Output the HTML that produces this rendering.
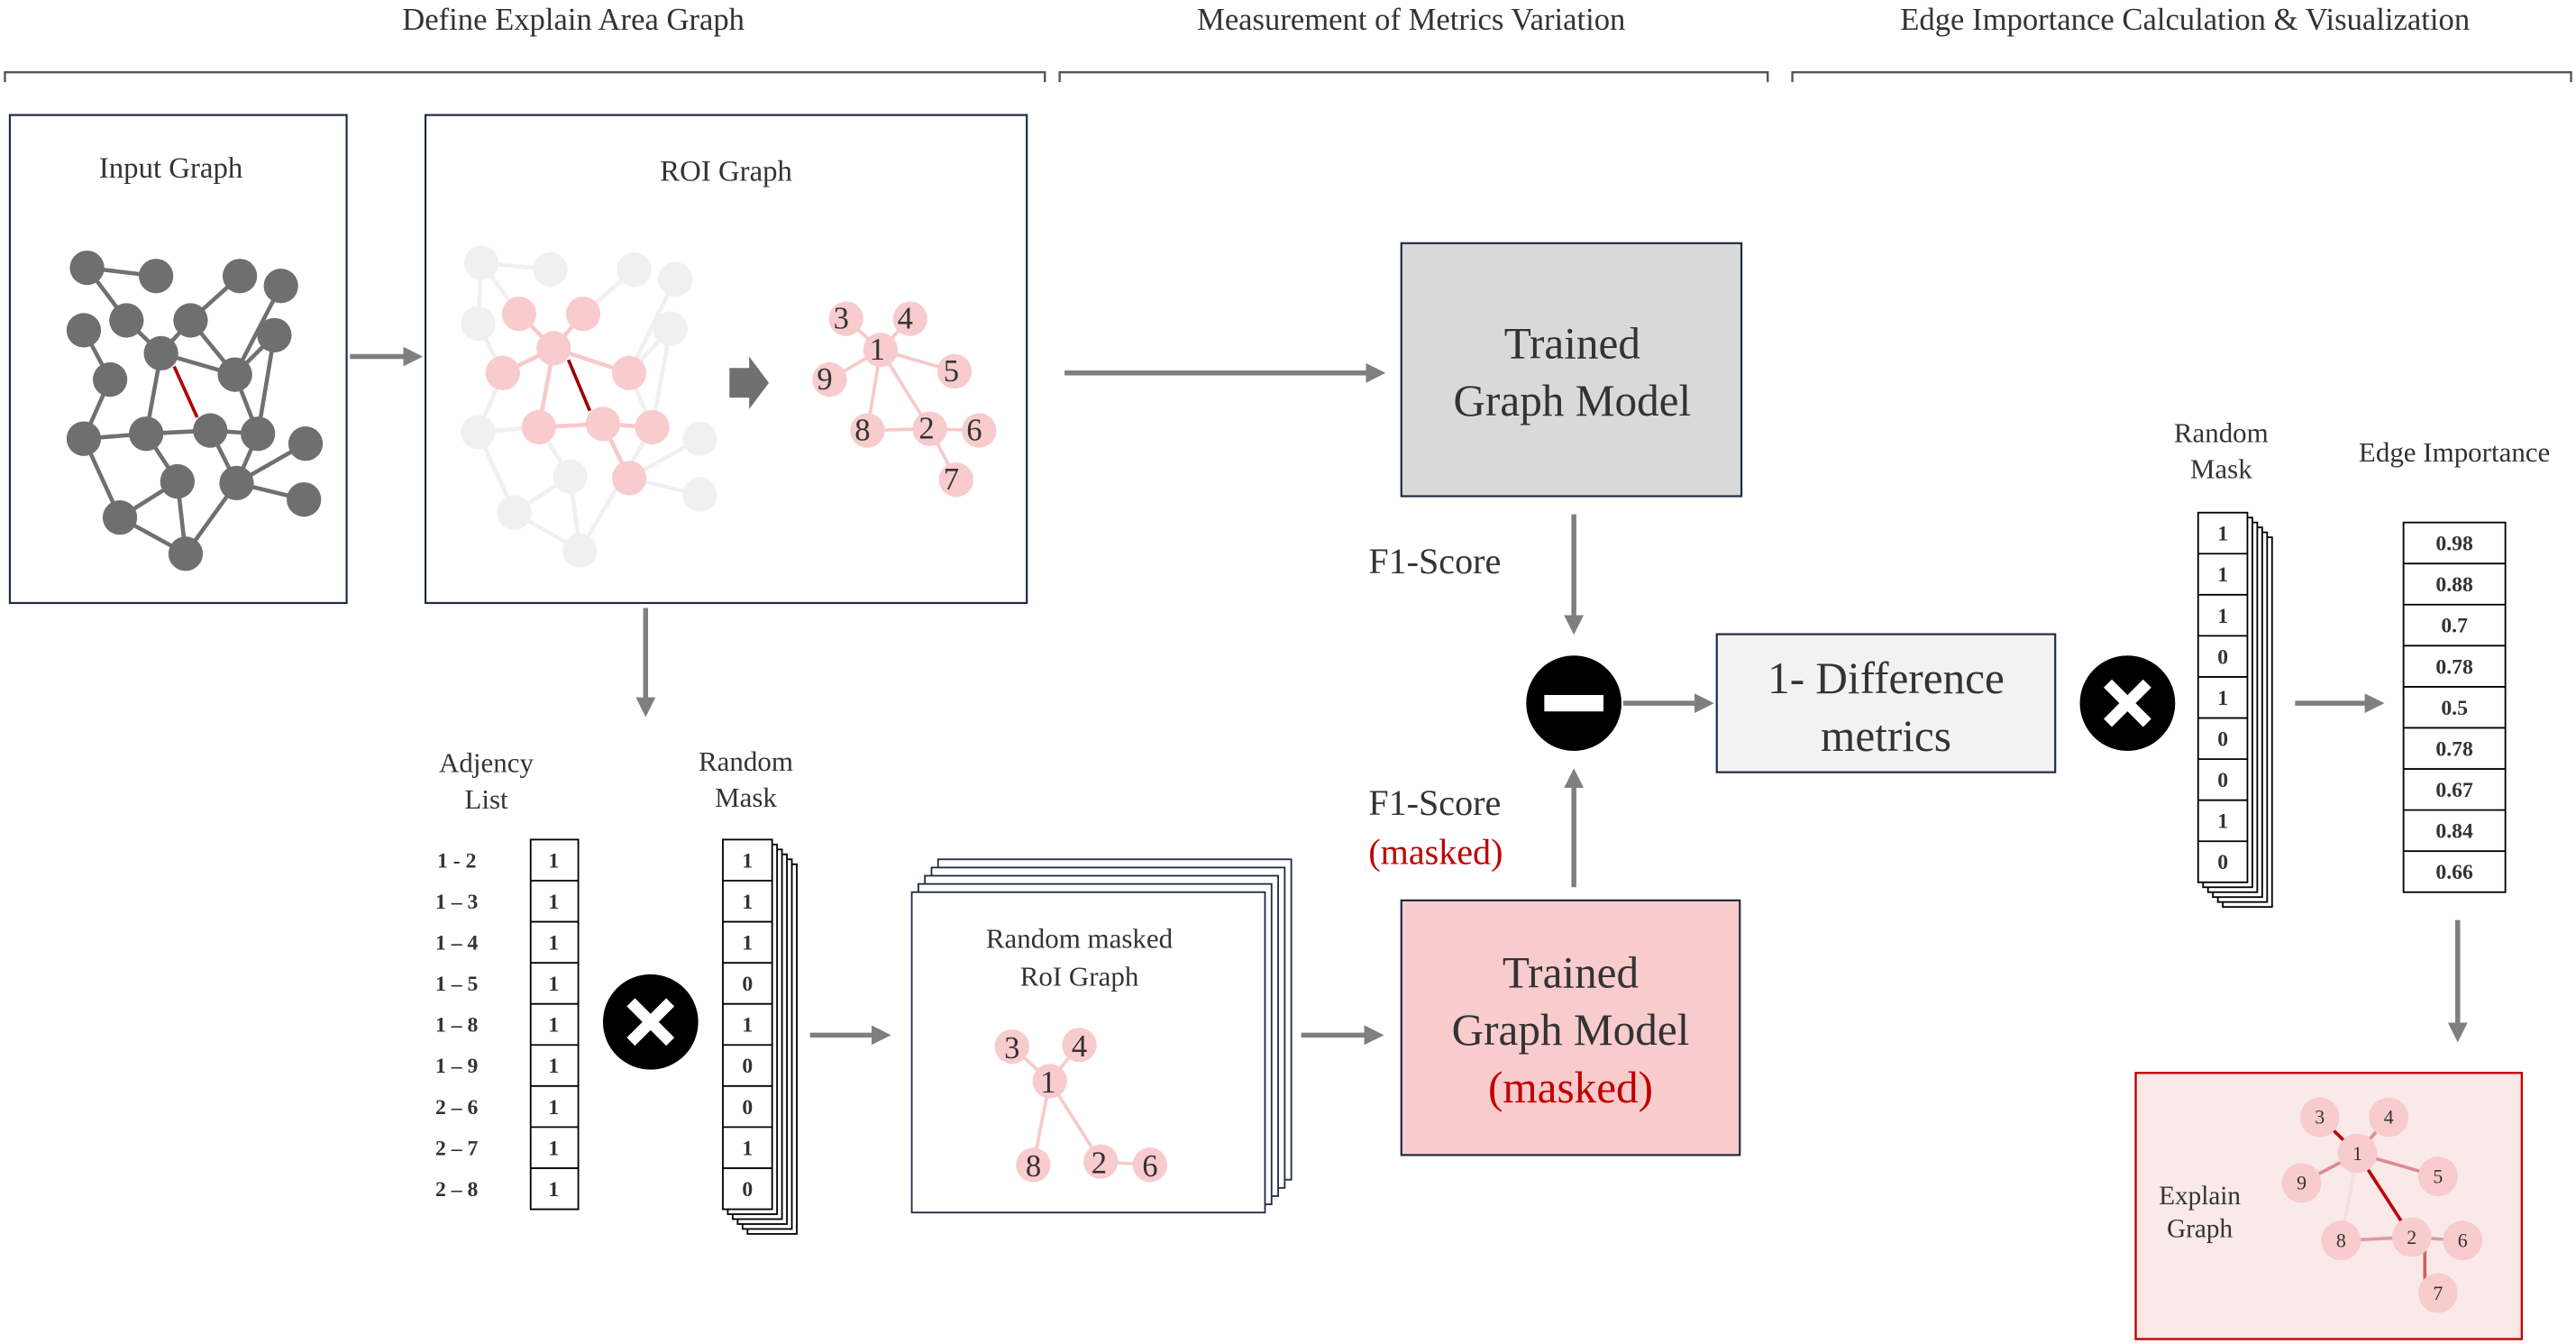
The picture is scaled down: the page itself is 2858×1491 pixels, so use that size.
<!DOCTYPE html>
<html><head><meta charset="utf-8"><style>
html,body{margin:0;padding:0;background:#fff;}
svg{display:block;font-family:"Liberation Serif","Times New Roman",serif;}
text{font-family:"Liberation Serif","Times New Roman",serif;fill:#333;}
</style></head><body>
<svg width="2858" height="1491" viewBox="0 0 1568 818" xmlns="http://www.w3.org/2000/svg" font-family="Liberation Serif, serif">
<defs>
<marker id="ah" markerWidth="4" markerHeight="4" refX="2.2" refY="2" orient="auto" markerUnits="strokeWidth">
<path d="M0,0 L4,2 L0,4 Z" fill="#7f7f7f"/></marker>
</defs>

<g font-size="19" text-anchor="middle">
<text x="349" y="18">Define Explain Area Graph</text>
<text x="859" y="18">Measurement of Metrics Variation</text>
<text x="1330" y="18">Edge Importance Calculation &amp; Visualization</text>
</g>
<g stroke="#555" stroke-width="1.3" fill="none">
<path d="M3,50 V44 H636 V50"/>
<path d="M645,50 V44 H1076 V50"/>
<path d="M1091,50 V44 H1565 V50"/>
</g>

<rect x="6" y="70" width="205" height="297" fill="#fff" stroke="#1f2a44" stroke-width="1.2"/>
<text x="104" y="108" font-size="18" text-anchor="middle">Input Graph</text>
<g stroke="#707070" stroke-width="2.5">
<line x1="53" y1="163" x2="95" y2="168"/><line x1="53" y1="163" x2="77" y2="195"/>
<line x1="146" y1="168" x2="116" y2="195"/><line x1="171" y1="174" x2="143" y2="228"/>
<line x1="51" y1="201" x2="67" y2="231"/><line x1="77" y1="195" x2="98" y2="215"/>
<line x1="116" y1="195" x2="98" y2="215"/><line x1="116" y1="195" x2="143" y2="228"/>
<line x1="98" y1="215" x2="143" y2="228"/><line x1="167" y1="204" x2="143" y2="228"/>
<line x1="167" y1="204" x2="157" y2="264"/><line x1="98" y1="215" x2="89" y2="264"/>
<line x1="67" y1="231" x2="51" y2="267"/><line x1="51" y1="267" x2="89" y2="264"/>
<line x1="89" y1="264" x2="128" y2="262"/><line x1="128" y1="262" x2="157" y2="264"/>
<line x1="143" y1="228" x2="157" y2="264"/><line x1="128" y1="262" x2="144" y2="294"/>
<line x1="157" y1="264" x2="144" y2="294"/><line x1="89" y1="264" x2="108" y2="293"/>
<line x1="186" y1="270" x2="144" y2="294"/><line x1="144" y1="294" x2="185" y2="304"/>
<line x1="144" y1="294" x2="113" y2="337"/><line x1="108" y1="293" x2="73" y2="315"/>
<line x1="108" y1="293" x2="113" y2="337"/><line x1="51" y1="267" x2="73" y2="315"/>
<line x1="73" y1="315" x2="113" y2="337"/>
</g>
<line x1="106" y1="223" x2="120" y2="254" stroke="#b00000" stroke-width="2"/>
<g fill="#6f6f6f">
<circle cx="53" cy="163" r="10.5"/><circle cx="95" cy="168" r="10.5"/><circle cx="146" cy="168" r="10.5"/>
<circle cx="171" cy="174" r="10.5"/><circle cx="77" cy="195" r="10.5"/><circle cx="116" cy="195" r="10.5"/>
<circle cx="51" cy="201" r="10.5"/><circle cx="167" cy="204" r="10.5"/><circle cx="98" cy="215" r="10.5"/>
<circle cx="143" cy="228" r="10.5"/><circle cx="67" cy="231" r="10.5"/><circle cx="51" cy="267" r="10.5"/>
<circle cx="89" cy="264" r="10.5"/><circle cx="128" cy="262" r="10.5"/><circle cx="157" cy="264" r="10.5"/>
<circle cx="186" cy="270" r="10.5"/><circle cx="108" cy="293" r="10.5"/><circle cx="144" cy="294" r="10.5"/>
<circle cx="185" cy="304" r="10.5"/><circle cx="73" cy="315" r="10.5"/><circle cx="113" cy="337" r="10.5"/>
</g>

<line x1="213" y1="217" x2="252" y2="217" stroke="#7f7f7f" stroke-width="3" marker-end="url(#ah)"/>

<rect x="259" y="70" width="366" height="297" fill="#fff" stroke="#1f2a44" stroke-width="1.2"/>
<text x="442" y="110" font-size="18" text-anchor="middle">ROI Graph</text>
<g stroke="#f0f0f0" stroke-width="2.5">
<line x1="293" y1="160" x2="335" y2="164"/><line x1="293" y1="160" x2="291" y2="197"/>
<line x1="293" y1="160" x2="316" y2="191"/><line x1="386" y1="164" x2="355" y2="191"/>
<line x1="411" y1="170" x2="383" y2="227"/><line x1="408" y1="200" x2="383" y2="227"/>
<line x1="408" y1="200" x2="397" y2="260"/><line x1="383" y1="227" x2="397" y2="260"/>
<line x1="291" y1="197" x2="306" y2="227"/><line x1="306" y1="227" x2="291" y2="263"/>
<line x1="291" y1="263" x2="328" y2="260"/><line x1="291" y1="263" x2="313" y2="312"/>
<line x1="328" y1="260" x2="347" y2="290"/><line x1="347" y1="290" x2="313" y2="312"/>
<line x1="347" y1="290" x2="353" y2="335"/><line x1="313" y1="312" x2="353" y2="335"/>
<line x1="383" y1="291" x2="426" y2="267"/><line x1="383" y1="291" x2="426" y2="301"/>
<line x1="397" y1="260" x2="353" y2="335"/>
</g>
<g fill="#f0f0f0">
<circle cx="293" cy="160" r="10.5"/><circle cx="335" cy="164" r="10.5"/><circle cx="386" cy="164" r="10.5"/>
<circle cx="411" cy="170" r="10.5"/><circle cx="291" cy="197" r="10.5"/><circle cx="408" cy="200" r="10.5"/>
<circle cx="291" cy="263" r="10.5"/><circle cx="426" cy="267" r="10.5"/><circle cx="347" cy="290" r="10.5"/>
<circle cx="426" cy="301" r="10.5"/><circle cx="313" cy="312" r="10.5"/><circle cx="353" cy="335" r="10.5"/>
</g>
<g stroke="#f7c9cb" stroke-width="2.5">
<line x1="316" y1="191" x2="337" y2="212"/><line x1="355" y1="191" x2="337" y2="212"/>
<line x1="337" y1="212" x2="383" y2="227"/><line x1="337" y1="212" x2="306" y2="227"/>
<line x1="337" y1="212" x2="328" y2="260"/><line x1="328" y1="260" x2="367" y2="258"/>
<line x1="367" y1="258" x2="397" y2="260"/><line x1="367" y1="258" x2="383" y2="291"/>
</g>
<g fill="#f8cbcd">
<circle cx="316" cy="191" r="10.5"/><circle cx="355" cy="191" r="10.5"/><circle cx="337" cy="212" r="10.5"/>
<circle cx="306" cy="227" r="10.5"/><circle cx="383" cy="227" r="10.5"/><circle cx="328" cy="260" r="10.5"/>
<circle cx="367" cy="258" r="10.5"/><circle cx="397" cy="260" r="10.5"/><circle cx="383" cy="291" r="10.5"/>
</g>
<line x1="346" y1="219" x2="359" y2="250" stroke="#9a0000" stroke-width="2"/>
<polygon points="444,224 456,224 456,217 468,233 456,249 456,242 444,242" fill="#707070"/>
<g stroke="#f7c9cb" stroke-width="2">
<line x1="536" y1="213" x2="515" y2="194"/><line x1="536" y1="213" x2="554" y2="194"/>
<line x1="536" y1="213" x2="581" y2="226"/><line x1="536" y1="213" x2="505" y2="231"/>
<line x1="536" y1="213" x2="528" y2="262"/><line x1="536" y1="213" x2="566" y2="261"/>
<line x1="528" y1="262" x2="566" y2="261"/><line x1="566" y1="261" x2="596" y2="262"/>
<line x1="566" y1="261" x2="582" y2="292"/>
</g>
<g fill="#f8cbcd">
<circle cx="515" cy="194" r="10.5"/><circle cx="554" cy="194" r="10.5"/><circle cx="536" cy="213" r="10.5"/>
<circle cx="581" cy="226" r="10.5"/><circle cx="505" cy="231" r="10.5"/><circle cx="528" cy="262" r="10.5"/>
<circle cx="566" cy="261" r="10.5"/><circle cx="596" cy="262" r="10.5"/><circle cx="582" cy="292" r="10.5"/>
</g>
<g font-size="19" text-anchor="middle">
<text x="512" y="200">3</text><text x="551" y="200">4</text><text x="534" y="219">1</text>
<text x="579" y="232">5</text><text x="502" y="237">9</text><text x="525" y="268">8</text>
<text x="564" y="267">2</text><text x="593" y="268">6</text><text x="579" y="298">7</text>
</g>

<line x1="648" y1="227" x2="838" y2="227" stroke="#7f7f7f" stroke-width="3" marker-end="url(#ah)"/>
<rect x="853" y="148" width="207" height="154" fill="#d9d9d9" stroke="#1f2a44" stroke-width="1.2"/>
<g font-size="27" text-anchor="middle">
<text x="957" y="218">Trained</text><text x="957" y="253">Graph Model</text>
</g>
<line x1="958" y1="313" x2="958" y2="381" stroke="#7f7f7f" stroke-width="3" marker-end="url(#ah)"/>
<text x="833" y="349" font-size="22">F1-Score</text>
<circle cx="958" cy="428" r="29" fill="#000"/>
<rect x="940" y="423" width="36" height="10" fill="#fff"/>
<line x1="958" y1="540" x2="958" y2="473" stroke="#7f7f7f" stroke-width="3" marker-end="url(#ah)"/>
<text x="833" y="496" font-size="22">F1-Score</text>
<text x="833" y="526" font-size="22" style="fill:#c00000">(masked)</text>
<line x1="988" y1="428" x2="1038" y2="428" stroke="#7f7f7f" stroke-width="3" marker-end="url(#ah)"/>
<rect x="1045" y="386" width="206" height="84" fill="#f2f2f2" stroke="#1f2a44" stroke-width="1.2"/>
<g font-size="27" text-anchor="middle">
<text x="1148" y="422">1- Difference</text><text x="1148" y="457">metrics</text>
</g>
<circle cx="1295" cy="428" r="29" fill="#000"/>
<g stroke="#fff" stroke-width="7" stroke-linecap="butt"><line x1="1283" y1="416" x2="1307" y2="440"/><line x1="1307" y1="416" x2="1283" y2="440"/></g>

<text x="1352" y="269" font-size="17" text-anchor="middle">Random</text>
<text x="1352" y="291" font-size="17" text-anchor="middle">Mask</text>
<g fill="#fff" stroke="#000" stroke-width="1">
<rect x="1353" y="327" width="30" height="225"/><rect x="1350" y="324" width="30" height="225"/>
<rect x="1347" y="321" width="30" height="225"/><rect x="1344" y="318" width="30" height="225"/>
<rect x="1341" y="315" width="30" height="225"/><rect x="1338" y="312" width="30" height="225"/>
</g>
<g stroke="#000" stroke-width="1">
<line x1="1338" y1="337" x2="1368" y2="337"/><line x1="1338" y1="362" x2="1368" y2="362"/>
<line x1="1338" y1="387" x2="1368" y2="387"/><line x1="1338" y1="412" x2="1368" y2="412"/>
<line x1="1338" y1="437" x2="1368" y2="437"/><line x1="1338" y1="462" x2="1368" y2="462"/>
<line x1="1338" y1="487" x2="1368" y2="487"/><line x1="1338" y1="512" x2="1368" y2="512"/>
</g>
<g font-size="13" font-weight="bold" text-anchor="middle">
<text x="1353" y="329">1</text><text x="1353" y="354">1</text><text x="1353" y="379">1</text>
<text x="1353" y="404">0</text><text x="1353" y="429">1</text><text x="1353" y="454">0</text>
<text x="1353" y="479">0</text><text x="1353" y="504">1</text><text x="1353" y="529">0</text>
</g>
<line x1="1397" y1="428" x2="1446" y2="428" stroke="#7f7f7f" stroke-width="3" marker-end="url(#ah)"/>

<text x="1494" y="281" font-size="17" text-anchor="middle">Edge Importance</text>
<rect x="1463" y="318" width="62" height="225" fill="#fff" stroke="#000" stroke-width="1"/>
<g stroke="#000" stroke-width="1">
<line x1="1463" y1="343" x2="1525" y2="343"/><line x1="1463" y1="368" x2="1525" y2="368"/>
<line x1="1463" y1="393" x2="1525" y2="393"/><line x1="1463" y1="418" x2="1525" y2="418"/>
<line x1="1463" y1="443" x2="1525" y2="443"/><line x1="1463" y1="468" x2="1525" y2="468"/>
<line x1="1463" y1="493" x2="1525" y2="493"/><line x1="1463" y1="518" x2="1525" y2="518"/>
</g>
<g font-size="13" font-weight="bold" text-anchor="middle">
<text x="1494" y="335">0.98</text><text x="1494" y="360">0.88</text><text x="1494" y="385">0.7</text>
<text x="1494" y="410">0.78</text><text x="1494" y="435">0.5</text><text x="1494" y="460">0.78</text>
<text x="1494" y="485">0.67</text><text x="1494" y="510">0.84</text><text x="1494" y="535">0.66</text>
</g>
<line x1="1496" y1="560" x2="1496" y2="629" stroke="#7f7f7f" stroke-width="3" marker-end="url(#ah)"/>

<rect x="1300" y="653" width="235" height="162" fill="#f9e9e9" stroke="#c00000" stroke-width="1.3"/>
<text x="1339" y="733" font-size="16" text-anchor="middle">Explain</text>
<text x="1339" y="753" font-size="16" text-anchor="middle">Graph</text>
<g stroke-width="2">
<line x1="1435" y1="702" x2="1412" y2="680" stroke="#c00000"/>
<line x1="1435" y1="702" x2="1454" y2="680" stroke="#dd8a8e"/>
<line x1="1435" y1="702" x2="1484" y2="716" stroke="#dd8a8e"/>
<line x1="1435" y1="702" x2="1401" y2="720" stroke="#dd8a8e"/>
<line x1="1435" y1="702" x2="1425" y2="755" stroke="#f5dede"/>
<line x1="1435" y1="702" x2="1468" y2="753" stroke="#c00000"/>
<line x1="1425" y1="755" x2="1468" y2="753" stroke="#e09a9d"/>
<line x1="1468" y1="753" x2="1499" y2="755" stroke="#e09a9d"/>
<line x1="1476" y1="753" x2="1476" y2="787" stroke="#d06064"/>
</g>
<g fill="#f8cbcd">
<circle cx="1412" cy="680" r="12"/><circle cx="1454" cy="680" r="12"/><circle cx="1435" cy="702" r="12"/>
<circle cx="1401" cy="720" r="12"/><circle cx="1484" cy="716" r="12"/><circle cx="1425" cy="755" r="12"/>
<circle cx="1468" cy="753" r="12"/><circle cx="1499" cy="755" r="12"/><circle cx="1484" cy="787" r="12"/>
</g>
<g font-size="12" text-anchor="middle">
<text x="1412" y="684">3</text><text x="1454" y="684">4</text><text x="1435" y="706">1</text>
<text x="1401" y="724">9</text><text x="1484" y="720">5</text><text x="1425" y="759">8</text>
<text x="1468" y="757">2</text><text x="1499" y="759">6</text><text x="1484" y="791">7</text>
</g>

<line x1="393" y1="370" x2="393" y2="431" stroke="#7f7f7f" stroke-width="3" marker-end="url(#ah)"/>
<text x="296" y="470" font-size="17" text-anchor="middle">Adjency</text>
<text x="296" y="492" font-size="17" text-anchor="middle">List</text>
<text x="454" y="469" font-size="17" text-anchor="middle">Random</text>
<text x="454" y="491" font-size="17" text-anchor="middle">Mask</text>
<g font-size="13" font-weight="bold" text-anchor="middle">
<text x="278" y="528">1 - 2</text><text x="278" y="553">1 – 3</text><text x="278" y="578">1 – 4</text>
<text x="278" y="603">1 – 5</text><text x="278" y="628">1 – 8</text><text x="278" y="653">1 – 9</text>
<text x="278" y="678">2 – 6</text><text x="278" y="703">2 – 7</text><text x="278" y="728">2 – 8</text>
</g>
<rect x="323" y="511" width="29" height="225" fill="#fff" stroke="#000" stroke-width="1"/>
<g stroke="#000" stroke-width="1">
<line x1="323" y1="536" x2="352" y2="536"/><line x1="323" y1="561" x2="352" y2="561"/>
<line x1="323" y1="586" x2="352" y2="586"/><line x1="323" y1="611" x2="352" y2="611"/>
<line x1="323" y1="636" x2="352" y2="636"/><line x1="323" y1="661" x2="352" y2="661"/>
<line x1="323" y1="686" x2="352" y2="686"/><line x1="323" y1="711" x2="352" y2="711"/>
</g>
<g font-size="13" font-weight="bold" text-anchor="middle">
<text x="337" y="528">1</text><text x="337" y="553">1</text><text x="337" y="578">1</text>
<text x="337" y="603">1</text><text x="337" y="628">1</text><text x="337" y="653">1</text>
<text x="337" y="678">1</text><text x="337" y="703">1</text><text x="337" y="728">1</text>
</g>
<circle cx="396" cy="622" r="29" fill="#000"/>
<g stroke="#fff" stroke-width="7"><line x1="384" y1="610" x2="408" y2="634"/><line x1="408" y1="610" x2="384" y2="634"/></g>
<g fill="#fff" stroke="#000" stroke-width="1">
<rect x="455" y="526" width="30" height="225"/><rect x="452" y="523" width="30" height="225"/>
<rect x="449" y="520" width="30" height="225"/><rect x="446" y="517" width="30" height="225"/>
<rect x="443" y="514" width="30" height="225"/><rect x="440" y="511" width="30" height="225"/>
</g>
<g stroke="#000" stroke-width="1">
<line x1="440" y1="536" x2="470" y2="536"/><line x1="440" y1="561" x2="470" y2="561"/>
<line x1="440" y1="586" x2="470" y2="586"/><line x1="440" y1="611" x2="470" y2="611"/>
<line x1="440" y1="636" x2="470" y2="636"/><line x1="440" y1="661" x2="470" y2="661"/>
<line x1="440" y1="686" x2="470" y2="686"/><line x1="440" y1="711" x2="470" y2="711"/>
</g>
<g font-size="13" font-weight="bold" text-anchor="middle">
<text x="455" y="528">1</text><text x="455" y="553">1</text><text x="455" y="578">1</text>
<text x="455" y="603">0</text><text x="455" y="628">1</text><text x="455" y="653">0</text>
<text x="455" y="678">0</text><text x="455" y="703">1</text><text x="455" y="728">0</text>
</g>
<line x1="493" y1="630" x2="537" y2="630" stroke="#7f7f7f" stroke-width="3" marker-end="url(#ah)"/>

<g fill="#fff" stroke="#1f2a44" stroke-width="1">
<rect x="571" y="523" width="215" height="195"/><rect x="567" y="528" width="215" height="195"/>
<rect x="563" y="533" width="215" height="195"/><rect x="559" y="538" width="215" height="195"/>
<rect x="555" y="543" width="215" height="195"/>
</g>
<text x="657" y="577" font-size="17" text-anchor="middle">Random masked</text>
<text x="657" y="600" font-size="17" text-anchor="middle">RoI Graph</text>
<g stroke="#f7c9cb" stroke-width="2">
<line x1="639" y1="658" x2="616" y2="637"/><line x1="639" y1="658" x2="657" y2="636"/>
<line x1="639" y1="658" x2="629" y2="709"/><line x1="639" y1="658" x2="670" y2="707"/>
<line x1="670" y1="707" x2="700" y2="709"/>
</g>
<g fill="#f8cbcd">
<circle cx="616" cy="637" r="10.5"/><circle cx="657" cy="636" r="10.5"/><circle cx="639" cy="658" r="10.5"/>
<circle cx="629" cy="709" r="10.5"/><circle cx="670" cy="707" r="10.5"/><circle cx="700" cy="709" r="10.5"/>
</g>
<g font-size="19" text-anchor="middle">
<text x="616" y="644">3</text><text x="657" y="643">4</text><text x="638" y="665">1</text>
<text x="629" y="716">8</text><text x="669" y="714">2</text><text x="700" y="716">6</text>
</g>
<line x1="792" y1="630" x2="837" y2="630" stroke="#7f7f7f" stroke-width="3" marker-end="url(#ah)"/>
<rect x="853" y="548" width="206" height="155" fill="#f8cbcd" stroke="#1f2a44" stroke-width="1.2"/>
<g font-size="27" text-anchor="middle">
<text x="956" y="601">Trained</text><text x="956" y="636">Graph Model</text>
<text x="956" y="671" style="fill:#c00000">(masked)</text>
</g>
</svg>
</body></html>
